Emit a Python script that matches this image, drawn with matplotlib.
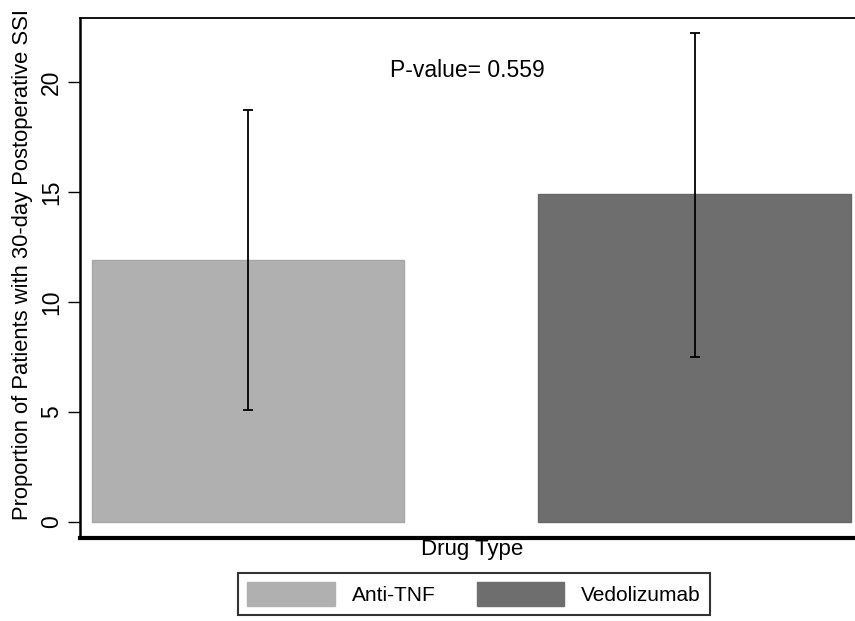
import numpy as np
import matplotlib
matplotlib.use('Agg')
import matplotlib.pyplot as plt
from matplotlib.patches import Patch

# data
drugs = ['Anti-TNF', 'Vedolizumab']
proportion = [11.9, 14.9]
ci_low = [5.1, 7.5]
ci_high = [18.7, 22.2]
bar_colors = ['#b0b0b0', '#6e6e6e']
p_text = 'P-value= 0.559'

plt.rcParams['font.family'] = ['Liberation Sans Narrow', 'Liberation Sans', 'DejaVu Sans']

fig = plt.figure(figsize=(8.55, 6.21), dpi=100)
ax = fig.add_axes([80/855, 83/621, 790/855, 520/621])

x = np.array([1, 2])
y = np.array(proportion)
err = [y - np.array(ci_low), np.array(ci_high) - y]
ax.bar(x, y, width=0.7, color=bar_colors, edgecolor=['#a6a6a6', '#666666'], linewidth=1)
ax.errorbar(x, y, yerr=err, fmt='none', ecolor='black', elinewidth=1.3, capsize=3.5, capthick=1.3)

ax.set_xlim(0.624, 2.392)
ax.set_ylim(-0.73, 22.9)
ax.set_yticks([0, 5, 10, 15, 20])
ax.set_xticks([])
ax.tick_params(axis='y', direction='out', length=9, width=1, labelsize=16.5, pad=3)
for lab in ax.get_yticklabels():
    lab.set_rotation(90)
    lab.set_va('center')

ax.spines['right'].set_visible(False)
ax.spines['left'].set_linewidth(1.8)
ax.spines['top'].set_linewidth(1.3)
ax.spines['bottom'].set_linewidth(3)

ax.set_ylabel('Proportion of Patients with 30-day Postoperative SSI', fontsize=15.8)
ax.yaxis.set_label_coords(-0.06, 0.525)
ax.text(1.49, 20.5, p_text, fontsize=16.5, ha='center', va='center')

fig.text(472/855, 1 - 549/621, 'Drug Type', fontsize=16, ha='center', va='center')

handles = [Patch(facecolor=c, edgecolor=c) for c in bar_colors]
leg = fig.legend(handles, drugs, loc='center', bbox_to_anchor=(474/855, 1 - 594/621),
                 ncol=2, fontsize=15, frameon=True, fancybox=False, edgecolor='black',
                 handlelength=4.2, handleheight=1.4, columnspacing=2.0, borderpad=0.45)
leg.get_frame().set_linewidth(1.5)

fig.savefig('out.png', dpi=100)
